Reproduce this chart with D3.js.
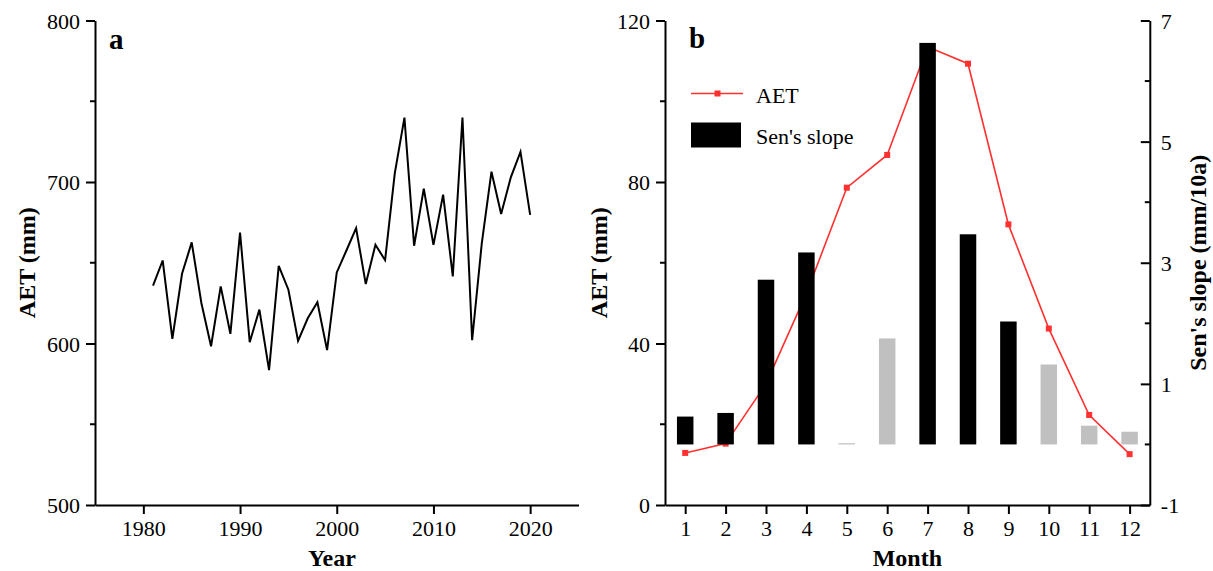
<!DOCTYPE html>
<html>
<head>
<meta charset="utf-8">
<script src="https://cdn.jsdelivr.net/npm/d3@7"></script>
<style>
  body { margin: 0; background: #fff; }
  svg { display: block; font-family: "Liberation Serif", "Times New Roman", serif; }
  .tick text { font-family: "Liberation Serif", "Times New Roman", serif; font-size: 22px; fill: #000; }
  .domain, .tick line { stroke: #000; stroke-width: 2; }
  .title { font-size: 24px; font-weight: bold; }
</style>
</head>
<body>
<div id="chart"></div>
<script>
// panel a: annual AET
var years = [1981, 1982, 1983, 1984, 1985, 1986, 1987, 1988, 1989, 1990,
             1991, 1992, 1993, 1994, 1995, 1996, 1997, 1998, 1999, 2000,
             2001, 2002, 2003, 2004, 2005, 2006, 2007, 2008, 2009, 2010,
             2011, 2012, 2013, 2014, 2015, 2016, 2017, 2018, 2019, 2020];
var annualAET = [635.8, 651.4, 602.9, 643.2, 662.6, 625.1, 598.3, 635.4, 606.0, 668.7,
                 600.8, 621.0, 583.5, 648.1, 633.3, 601.6, 615.6, 625.5, 595.9, 644.0,
                 657.6, 671.4, 636.8, 661.1, 651.6, 705.3, 739.9, 660.5, 695.9, 661.1,
                 692.2, 641.6, 739.9, 602.0, 662.2, 706.4, 680.2, 702.9, 718.7, 679.6];
var yearTicks = [1980, 1990, 2000, 2010, 2020];
var aetTicksA = [500, 600, 700, 800];

// panel b: monthly AET and Sen's slope
var months = [1, 2, 3, 4, 5, 6, 7, 8, 9, 10, 11, 12];
var monthlyAET = [12.9, 15.2, 30.0, 52.4, 78.6, 86.7, 113.5, 109.3, 69.5, 43.7, 22.3, 12.6];
var senSlope = [0.46, 0.52, 2.72, 3.17, 0.02, 1.75, 6.63, 3.47, 2.03, 1.32, 0.31, 0.21];
var significant = [true, true, true, true, false, false, true, true, true, false, false, false];
var aetTicksB = [0, 40, 80, 120];
var slopeTicks = [-1, 1, 3, 5, 7];

var W = 1213, H = 571;
var svg = d3.select("#chart").append("svg")
  .attr("width", W).attr("height", H);

var top_ = 20.5, bottom = 505;

// ---------- panel a ----------
var xa = d3.scaleLinear().domain([1975, 2025]).range([95, 578.5]);
var ya = d3.scaleLinear().domain([500, 800]).range([bottom, top_]);

svg.append("g")
  .attr("transform", "translate(0," + bottom + ")")
  .call(d3.axisBottom(xa).tickValues(yearTicks).tickSize(9).tickSizeOuter(0).tickPadding(6).tickFormat(d3.format("d")));

var gya = svg.append("g")
  .attr("transform", "translate(95,0)")
  .call(d3.axisLeft(ya).tickValues(aetTicksA).tickSize(9).tickSizeOuter(0).tickPadding(6));
gya.selectAll(".tick text").attr("dy", "0.345em");
// minor ticks
gya.selectAll(".minor").data([550, 650, 750]).enter().append("line")
  .attr("x1", 0).attr("x2", -5)
  .attr("y1", function(d) { return ya(d); }).attr("y2", function(d) { return ya(d); })
  .attr("stroke", "#000").attr("stroke-width", 2);

var lineA = d3.line()
  .x(function(d, i) { return xa(years[i]); })
  .y(function(d) { return ya(d); });
svg.append("path")
  .datum(annualAET)
  .attr("d", lineA)
  .attr("fill", "none")
  .attr("stroke", "#000")
  .attr("stroke-width", 2)
  .attr("stroke-linejoin", "miter");

svg.append("text").attr("class", "title")
  .attr("x", xa(1999.5)).attr("y", 566)
  .attr("text-anchor", "middle").text("Year");
svg.append("text").attr("class", "title")
  .attr("transform", "translate(35," + ya(650) + ") rotate(-90)")
  .attr("text-anchor", "middle").text("AET (mm)");
svg.append("text")
  .attr("x", 109).attr("y", 49)
  .style("font-size", "29px").style("font-weight", "bold").text("a");

// ---------- panel b ----------
var xb = d3.scaleLinear().domain([0.5, 12.5]).range([665, 1149.8]);
var yl = d3.scaleLinear().domain([0, 120]).range([bottom, top_]);
var yr = d3.scaleLinear().domain([-1, 7]).range([bottom, top_]);

svg.append("g")
  .attr("transform", "translate(0," + bottom + ")")
  .call(d3.axisBottom(xb).tickValues(months).tickSize(9).tickSizeOuter(0).tickPadding(6).tickFormat(d3.format("d")));

var gyl = svg.append("g")
  .attr("transform", "translate(665,0)")
  .call(d3.axisLeft(yl).tickValues(aetTicksB).tickSize(9).tickSizeOuter(0).tickPadding(6));
gyl.selectAll(".tick text").attr("dy", "0.345em");
gyl.selectAll(".minor").data([20, 60, 100]).enter().append("line")
  .attr("x1", 0).attr("x2", -5)
  .attr("y1", function(d) { return yl(d); }).attr("y2", function(d) { return yl(d); })
  .attr("stroke", "#000").attr("stroke-width", 2);

// right axis, ticks pointing inward
var gyr = svg.append("g")
  .attr("transform", "translate(1149.8,0)")
  .call(d3.axisRight(yr).tickValues(slopeTicks).tickSize(0).tickSizeOuter(0).tickPadding(11)
    .tickFormat(function(d) { return d < 0 ? "-" + Math.abs(d) : d; }));
gyr.selectAll(".tick text").attr("dy", "0.345em");
gyr.selectAll(".tick line").attr("x2", -9);
gyr.selectAll(".minor").data([0, 2, 4, 6]).enter().append("line")
  .attr("x1", 0).attr("x2", -5)
  .attr("y1", function(d) { return yr(d); }).attr("y2", function(d) { return yr(d); })
  .attr("stroke", "#000").attr("stroke-width", 2);

var red = "#ff3030";
var lineB = d3.line()
  .x(function(d, i) { return xb(months[i]); })
  .y(function(d) { return yl(d); });
svg.append("path")
  .datum(monthlyAET)
  .attr("d", lineB)
  .attr("fill", "none")
  .attr("stroke", red)
  .attr("stroke-width", 1.6);
svg.selectAll(".mk").data(monthlyAET).enter().append("rect")
  .attr("x", function(d, i) { return xb(months[i]) - 3; })
  .attr("y", function(d) { return yl(d) - 3; })
  .attr("width", 6).attr("height", 6)
  .attr("fill", red);

var barW = 16.5;
svg.selectAll(".bar").data(senSlope).enter().append("rect")
  .attr("x", function(d, i) { return xb(months[i]) - barW / 2; })
  .attr("y", function(d) { return yr(Math.max(d, 0)); })
  .attr("width", barW)
  .attr("height", function(d) { return Math.max(Math.abs(yr(d) - yr(0)), 1.2); })
  .attr("fill", function(d, i) { return significant[i] ? "#000" : "#c0c0c0"; });

svg.append("text").attr("class", "title")
  .attr("x", xb(6.5)).attr("y", 566)
  .attr("text-anchor", "middle").text("Month");
svg.append("text").attr("class", "title")
  .attr("transform", "translate(607," + yl(60) + ") rotate(-90)")
  .attr("text-anchor", "middle").text("AET (mm)");
svg.append("text").attr("class", "title")
  .attr("transform", "translate(1206," + yr(3) + ") rotate(-90)")
  .attr("text-anchor", "middle").text("Sen's slope (mm/10a)");
svg.append("text")
  .attr("x", 689).attr("y", 48)
  .style("font-size", "29px").style("font-weight", "bold").text("b");

// legend
var lg = svg.append("g");
lg.append("line").attr("x1", 691).attr("x2", 743).attr("y1", 93.5).attr("y2", 93.5)
  .attr("stroke", red).attr("stroke-width", 1.6);
lg.append("rect").attr("x", 714.5).attr("y", 90.5).attr("width", 6).attr("height", 6).attr("fill", red);
lg.append("text").attr("x", 756).attr("y", 102.5).style("font-size", "22px").text("AET");
lg.append("rect").attr("x", 691).attr("y", 122.5).attr("width", 50).attr("height", 25).attr("fill", "#000");
lg.append("text").attr("x", 756).attr("y", 144).style("font-size", "22px").text("Sen's slope");
</script>
</body>
</html>
